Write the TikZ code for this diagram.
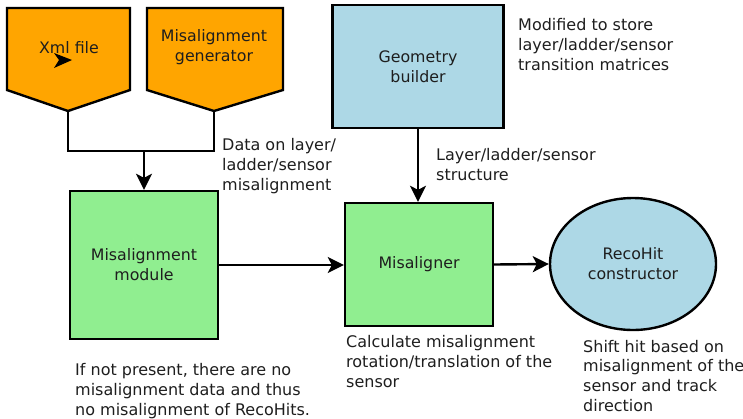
\documentclass[tikz,border=0pt]{standalone}
\usepackage{fontspec}
\setmainfont{DejaVu Sans}
\usetikzlibrary{arrows.meta,shapes.geometric}
\definecolor{srcorange}{HTML}{FFA500}
\definecolor{modgreen}{HTML}{90EE90}
\definecolor{geoblue}{HTML}{ADD8E6}
\definecolor{inkgray}{HTML}{1E1E1E}
\tikzset{
  box/.style={draw=black,line width=2.4pt,align=center,inner sep=0pt,text=inkgray,font=\fontsize{15.8}{20}\selectfont},
  note/.style={align=left,anchor=base west,inner sep=0pt,text=inkgray,font=\fontsize{16}{19.6}\selectfont},
  wire/.style={line width=2.4pt},
  flow/.style={line width=2.4pt,-{Stealth[length=16pt,width=16pt,inset=4pt]}},
}
\begin{document}
\begin{tikzpicture}[x=1pt,y=-1pt]
\useasboundingbox (0,0) rectangle (743,418);
% sources
\draw[wire,fill=srcorange] (7,8) -- (130,8) -- (130,90) -- (68,111) -- (7,90) -- cycle;
\draw[wire,fill=srcorange] (147,8) -- (283,8) -- (283,90) -- (214,111) -- (147,90) -- cycle;
\coordinate (xmltip) at (68,111);
\coordinate (gentip) at (214,111);
\node[box,draw=none] (xml) at (69,48) {Xml file};
\node[box,draw=none] (gen) at (214,47) {Misalignment\\generator};
\fill (54,53) -- (72,60) -- (54,68) -- (59,60) -- cycle;
% blocks
\node[box,fill=geoblue,minimum width=171,minimum height=123] (geo) at (418,66.5) {Geometry\\builder};
\node[box,fill=modgreen,minimum width=148,minimum height=148] (module) at (144,265) {Misalignment\\module};
\node[box,fill=modgreen,minimum width=148,minimum height=123] (misaligner) at (419,264.5) {Misaligner};
\node[box,ellipse,fill=geoblue,minimum width=166,minimum height=132] (recohit) at (633,264) {RecoHit\\constructor};
% connectors
\coordinate (merge) at (144,151);
\draw[wire] (xmltip) |- (merge) -| (gentip);
\draw[flow] (merge) -- (module.north);
\draw[flow] (module.east) -- (module.east -| misaligner.west);
\draw[flow] (geo.south) -- (geo.south |- misaligner.north);
\draw[flow] (misaligner.east) -- (recohit.west);
% notes (anchored at the last line's baseline)
\node[note] (datanote) at (222,190) {Data on layer/\\ladder/sensor\\misalignment};
\node[note] (geonote) at (518,70) {Modified to store\\layer/ladder/sensor\\transition matrices};
\node[note] (structnote) at (436,180) {Layer/ladder/sensor\\structure};
\node[note] (modnote) at (75,415) {If not present, there are no\\misalignment data and thus\\no misalignment of RecoHits.};
\node[note] (calcnote) at (346,387) {Calculate misalignment\\rotation/translation of the\\sensor};
\node[note] (shiftnote) at (583,411) {Shift hit based on\\misalignment of the\\sensor and track\\direction};
\end{tikzpicture}
\end{document}
